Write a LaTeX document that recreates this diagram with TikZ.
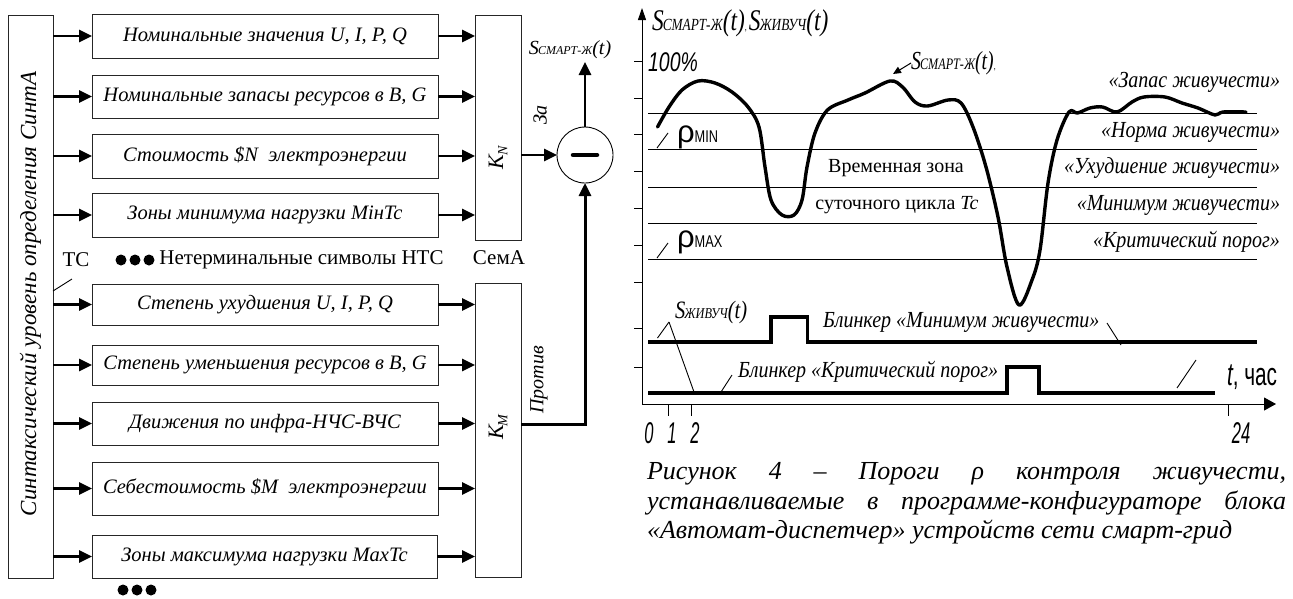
\documentclass[tikz,border=0pt]{standalone}
\usepackage{fontspec}
\usepackage{graphicx}
\setmainfont{Liberation Serif}
\setsansfont{Liberation Sans}
\usetikzlibrary{arrows.meta}
\newcommand{\Sx}[3]{{\fontsize{#2}{#2}\selectfont\itshape S\kern-0.04em{\fontsize{#3}{#3}\selectfont #1}(t)}}
\newcommand{\narrowtxt}[2]{\scalebox{#1}[1]{#2}}
\newcommand{\cnd}[1]{\scalebox{0.87}[1]{#1}}
\tikzset{
  every node/.style={inner sep=0pt, outer sep=0pt},
  plainbox/.style={draw=black!85, line width=0.9pt},
  lbox/.style={plainbox, minimum width=346pt, font=\fontsize{20.5}{24}\selectfont\itshape},
  arr/.style={line width=2.6pt, -{Triangle[length=13pt,width=12pt]}},
  thinln/.style={line width=0.9pt},
  curve/.style={line width=3.4pt, line join=round, line cap=round},
  blink/.style={line width=3.6pt, line join=miter},
  lvl/.style={anchor=east, font=\fontsize{23}{26}\selectfont\itshape},
  gtxt/.style={font=\fontsize{23}{26}\selectfont\itshape},
  rottxt/.style={rotate=90, font=\fontsize{20}{24}\selectfont\itshape},
  numlab/.style={font=\fontsize{30}{30}\selectfont\sffamily\itshape},
  captxt/.style={anchor=base west, font=\fontsize{26}{30}\selectfont\itshape}
}
\begin{document}
\begin{tikzpicture}[x=1pt,y=-1pt]
\useasboundingbox (0,0) rectangle (1293,598);
\fill[white] (0,0) rectangle (1293,598);

% ---------- left block ----------
\node[plainbox, minimum width=45pt, minimum height=563pt] (syn) at (30.5,296.5) {};
\node[rotate=90, font=\fontsize{23}{26}\selectfont\itshape] (syntxt) at (30.5,294) {Синтаксический уровень определения СинтА};

\node[lbox, minimum height=44pt] (b1) at (265,36) {Номинальные значения U, I, P, Q};
\node[lbox, minimum height=43pt] (b2) at (265,96.5) {Номинальные запасы ресурсов в B, G};
\node[lbox, minimum height=44pt] (b3) at (265,156) {Стоимость \$N\ \ электроэнергии};
\node[lbox, minimum height=44pt] (b4) at (265,215) {Зоны минимума нагрузки MiнTc};
\node[lbox, minimum height=41pt] (b5) at (265,304.5) {Степень ухудшения U, I, P, Q};
\node[lbox, minimum height=40pt] (b6) at (265,365) {Степень уменьшения ресурсов в B, G};
\node[lbox, minimum height=43pt] (b7) at (265,423.5) {Движения по инфра-НЧС-ВЧС};
\node[lbox, minimum height=53pt] (b8) at (265,488.5) {Себестоимость \$M\ \ электроэнергии};
\node[lbox, minimum height=43pt, minimum width=345pt] (b9) at (264.5,556.5) {Зоны максимума нагрузки MaxTc};

\node[plainbox, minimum width=46pt, minimum height=225pt] (kn) at (498,127.5) {};
\node[plainbox, minimum width=46pt, minimum height=294pt] (km) at (498,430) {};
\node[rotate=90, font=\fontsize{22}{24}\selectfont\itshape] (knl) at (498,158) {K\kern-0.05em\raisebox{-0.2em}{\fontsize{14}{14}\selectfont N}};
\node[rotate=90, font=\fontsize{22}{24}\selectfont\itshape] (kml) at (498,427) {K\kern-0.05em\raisebox{-0.2em}{\fontsize{14}{14}\selectfont M}};

\foreach \b in {b1,b2,b3,b4,b5,b6,b7,b8,b9} {
  \draw[arr] (syn.east |- \b.west) -- (\b.west);
}
\foreach \b in {b1,b2,b3,b4} { \draw[arr] (\b.east) -- (kn.west |- \b.east); }
\foreach \b in {b5,b6,b7,b8,b9} { \draw[arr] (\b.east) -- (km.west |- \b.east); }

\node[font=\fontsize{21}{24}\selectfont] (ts) at (76,260) {ТС};
\draw[thinln] (53,291) -- (72,279);
\foreach \x in {121,135,149} { \fill (\x,260) circle (5.5pt); }
\node[font=\fontsize{21}{24}\selectfont] (nts) at (301.5,260) {Нетерминальные символы НТС};
\foreach \x in {123,137,151} { \fill (\x,590) circle (5.5pt); }
\node[font=\fontsize{21}{24}\selectfont] (sema) at (499,258) {СемА};

% ---------- summing node ----------
\node[circle, draw, line width=0.9pt, minimum size=56pt] (sum) at (585,155) {};
\draw[line width=4.5pt, line cap=round] ([xshift=-12pt]sum.center) -- ([xshift=12pt]sum.center);
\draw[arr] (kn.east |- sum.west) -- (sum.west);
\node (sout) at (570,50) {\Sx{СМАРТ-Ж}{20}{12}};
\coordinate (souttip) at (585,62);
\draw[arr] (sum.north) -- (souttip);
\node[rottxt] (za) at (540,115) {За};
\coordinate (kmout) at (521,424);
\draw[line width=3pt, -{Triangle[length=13pt,width=12pt]}] (kmout) -| (sum.south);
\node[rottxt] (protiv) at (539,380) {Против};

% ---------- graph ----------
\coordinate (O) at (642,404);
\coordinate (ytop) at (642,8);
\coordinate (xend) at (1276,404);
\draw[line width=1pt, -{Triangle[length=12pt,width=8pt]}] (O) -- (ytop);
\draw[line width=1pt, -{Triangle[length=12pt,width=13pt]}] (O) -- (xend);
\foreach \y in {61,98,134,171,208,245,282,328,367} { \draw[thinln] (634,\y) -- (642,\y); }
\foreach \x in {668,691,1228} { \draw[thinln] (\x,404) -- (\x,416); }
\node[numlab] (n0) at (649,433) {\narrowtxt{0.55}{0}};
\node[numlab] (n1) at (672,433) {\narrowtxt{0.55}{1}};
\node[numlab] (n2) at (695,433) {\narrowtxt{0.55}{2}};
\node[numlab] (n24) at (1241,433) {\narrowtxt{0.55}{24}};

\foreach \y in {113,149,187,223,259} { \draw[thinln] (648,\y) -- (1257,\y); }
\node[lvl] (l1) at (1280,82) {\cnd{«Запас живучести»}};
\node[lvl] (l2) at (1280,132) {\cnd{«Норма живучести»}};
\node[lvl] (l3) at (1280,168) {\cnd{«Ухудшение живучести»}};
\node[lvl] (l4) at (1280,205) {\cnd{«Минимум живучести»}};
\node[lvl] (l5) at (1280,242) {\cnd{«Критический порог»}};

\node[anchor=west] (ttl) at (652,23) {\narrowtxt{0.78}{\Sx{СМАРТ-Ж}{30}{17}, \Sx{ЖИВУЧ}{30}{17}}};
\node[font=\fontsize{27}{27}\selectfont\sffamily\itshape] (pct) at (673,62) {\narrowtxt{0.72}{100\%}};

\node[anchor=west, font=\sffamily] (rmin) at (677,137) {\fontsize{31}{31}\selectfont ρ\narrowtxt{0.75}{\fontsize{17}{17}\selectfont MIN}};
\draw[thinln] (657,148) -- (668,133);
\node[anchor=west, font=\sffamily] (rmax) at (677,242) {\fontsize{31}{31}\selectfont ρ\narrowtxt{0.75}{\fontsize{17}{17}\selectfont MAX}};
\draw[thinln] (657,258) -- (668,243);

\node[font=\fontsize{20}{24}\selectfont] (tz1) at (896,168) {Временная зона};
\node[font=\fontsize{20}{24}\selectfont] (tz2) at (897,205) {суточного цикла \textit{Tc}};

\draw[curve] plot[smooth, tension=0.55] coordinates {
 (657.5,127) (669,107) (682,90) (698,81) (715,83) (732,92) (748,107) (759,127)
 (765,167) (771,200) (782,215) (794,215) (802,200) (807,167) (815,133) (827.5,110)
 (848,100) (865,93) (890,81) (902.5,87) (915,102) (927.5,106) (948,100) (961,103)
 (973,127) (986,167) (998,217) (1007,267) (1019,305) (1032,280) (1040,250) (1048,183)
 (1057,140) (1069,112) (1077.5,113) (1090,108) (1102.5,107) (1117,112) (1132,102)
 (1144,97) (1165,97) (1182,103) (1198,108) (1215,115) (1223,112) (1246,112)};

\node[anchor=west] (sm) at (911,63) {\narrowtxt{0.76}{\Sx{СМАРТ-Ж}{26}{16},}};
\coordinate (smtip) at (893,74);
\draw[line width=1pt, -{Triangle[length=8pt,width=7pt]}] (sm.west) -- (smtip);

% blinkers
\draw[blink] (648,342) -- (771,342) -- (771,317) -- (807.5,317) -- (807.5,342) -- (1257,342);
\draw[blink] (648,393) -- (1007,393) -- (1007,367) -- (1039,367) -- (1039,393) -- (1215,393);
\node[anchor=west] (szh) at (675,312) {\narrowtxt{0.82}{\Sx{ЖИВУЧ}{25}{15}}};
\coordinate (szhp) at (669,322);
\draw[thinln] (szhp) -- (657.5,338);
\draw[thinln] (szhp) -- (694,392);
\node[gtxt, anchor=west] (bl1) at (823,322) {\cnd{Блинкер «Минимум живучести»}};
\draw[thinln] (1107,323) -- (1121,345);
\node[gtxt, anchor=west] (bl2) at (738,372) {\cnd{Блинкер «Критический порог»}};
\draw[thinln] (732,375) -- (721,392);
\draw[thinln] (1196,360) -- (1177,388);
\node[anchor=west, font=\fontsize{32}{32}\selectfont\sffamily] (tlab) at (1227,377) {\narrowtxt{0.65}{\textit{t}, час}};

% caption
\node[captxt] (cap1) at (647,479) {\makebox[639pt][s]{Рисунок 4 – Пороги ρ контроля живучести,}};
\node[captxt] (cap2) at (647,509) {\makebox[639pt][s]{устанавливаемые в программе-конфигураторе блока}};
\node[captxt] (cap3) at (647,538) {«Автомат-диспетчер» устройств сети смарт-грид};
\end{tikzpicture}
\end{document}
